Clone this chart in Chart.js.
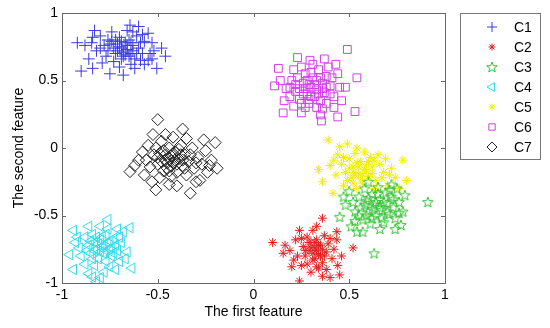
<!DOCTYPE html>
<html>
<head>
<meta charset="utf-8">
<script src="https://cdn.jsdelivr.net/npm/chart.js@4"></script>
<style>
  html, body { margin: 0; padding: 0; background: #fff; }
  #wrap { width: 550px; height: 328px; }
</style>
</head>
<body>
<div id="wrap"><canvas id="scatterChart" width="550" height="328"></canvas></div>
<script>
// cluster points, [x, y]
const c1 = [[-0.92,0.78],[-0.845,0.78],[-0.83,0.87],[-0.80,0.83],[-0.78,0.76],[-0.76,0.72],[-0.74,0.79],[-0.72,0.70],[-0.71,0.77],[-0.70,0.82],
  [-0.69,0.74],[-0.68,0.68],[-0.67,0.78],[-0.66,0.73],[-0.65,0.80],[-0.645,0.91],[-0.64,0.70],[-0.63,0.76],[-0.62,0.66],[-0.61,0.83],
  [-0.60,0.90],[-0.60,0.74],[-0.58,0.70],[-0.57,0.79],[-0.55,0.85],[-0.55,0.65],[-0.53,0.78],[-0.52,0.72],[-0.505,0.59],[-0.46,0.68],
  [-0.90,0.57],[-0.84,0.59],[-0.79,0.63],[-0.75,0.55],[-0.68,0.54],[-0.59,0.65],[-0.54,0.70],[-0.77,0.68],[-0.82,0.72],[-0.73,0.64],
  [-0.70,0.60],[-0.86,0.66],[-0.62,0.59],[-0.57,0.62],[-0.74,0.86],[-0.66,0.87],[-0.48,0.74],[-0.80,0.74],[-0.69,0.66],[-0.64,0.62],
  [-0.75,0.77],[-0.73,0.74],[-0.71,0.72],[-0.69,0.79],[-0.68,0.71],[-0.66,0.76],[-0.64,0.78],[-0.63,0.72],[-0.61,0.70],[-0.72,0.80],
  [-0.76,0.80],[-0.67,0.69],[-0.59,0.78],[-0.65,0.68],[-0.70,0.75],[-0.88,0.76],[-0.84,0.82],[-0.58,0.84],[-0.53,0.66],[-0.63,0.86]];
const c2 = [[0.10,-0.70],[0.36,-0.52],[0.24,-0.61],[0.31,-0.61],[0.435,-0.62],[0.435,-0.68],[0.52,-0.74],[0.165,-0.72],[0.155,-0.78],[0.20,-0.88],
  [0.25,-0.87],[0.24,-0.985],[0.40,-0.96],[0.45,-0.94],[0.34,-0.89],[0.22,-0.68],[0.26,-0.73],[0.27,-0.80],[0.28,-0.66],[0.29,-0.76],
  [0.30,-0.70],[0.31,-0.83],[0.32,-0.74],[0.33,-0.68],[0.34,-0.79],[0.35,-0.72],[0.36,-0.85],[0.37,-0.65],[0.38,-0.77],[0.39,-0.71],
  [0.41,-0.82],[0.42,-0.75],[0.19,-0.76],[0.23,-0.80],[0.30,-0.92],[0.38,-0.90],[0.44,-0.87],[0.33,-0.58],[0.28,-0.86],[0.36,-0.95],
  [0.30,-0.74],[0.31,-0.78],[0.32,-0.70],[0.33,-0.76],[0.34,-0.72],[0.35,-0.80],[0.32,-0.82],[0.29,-0.70],[0.36,-0.75],[0.27,-0.76],
  [0.37,-0.80],[0.25,-0.67],[0.40,-0.67],[0.46,-0.80],[0.21,-0.83],[0.33,-0.88]];
const c3 = [[0.91,-0.40],[0.45,-0.51],[0.51,-0.58],[0.63,-0.78],[0.50,-0.32],[0.52,-0.40],[0.53,-0.47],[0.55,-0.36],[0.56,-0.44],[0.57,-0.53],
  [0.58,-0.30],[0.59,-0.39],[0.60,-0.47],[0.61,-0.56],[0.62,-0.34],[0.63,-0.42],[0.64,-0.50],[0.65,-0.29],[0.66,-0.38],[0.67,-0.46],
  [0.68,-0.55],[0.69,-0.33],[0.70,-0.41],[0.71,-0.49],[0.72,-0.36],[0.73,-0.44],[0.74,-0.52],[0.75,-0.30],[0.76,-0.40],[0.77,-0.57],
  [0.78,-0.47],[0.48,-0.42],[0.47,-0.36],[0.54,-0.62],[0.66,-0.60],[0.79,-0.35],[0.60,-0.25],[0.72,-0.27],[0.57,-0.62],[0.74,-0.60],
  [0.58,-0.42],[0.60,-0.37],[0.62,-0.45],[0.64,-0.40],[0.66,-0.44],[0.68,-0.40],[0.70,-0.47],[0.62,-0.52],[0.67,-0.52],[0.59,-0.50],
  [0.73,-0.38],[0.55,-0.50],[0.65,-0.34],[0.71,-0.31],[0.76,-0.48],[0.53,-0.54]];
const c4 = [[-0.76,-0.53],[-0.645,-0.59],[-0.94,-0.61],[-0.93,-0.70],[-0.96,-0.79],[-0.94,-0.90],[-0.84,-0.955],[-0.82,-0.99],[-0.635,-0.89],[-0.66,-0.77],
  [-0.75,-0.88],[-0.88,-0.66],[-0.86,-0.72],[-0.85,-0.78],[-0.84,-0.64],[-0.83,-0.70],[-0.82,-0.75],[-0.81,-0.82],[-0.80,-0.68],[-0.79,-0.73],
  [-0.78,-0.78],[-0.77,-0.64],[-0.76,-0.70],[-0.75,-0.75],[-0.74,-0.80],[-0.73,-0.67],[-0.72,-0.72],[-0.71,-0.60],[-0.70,-0.84],[-0.69,-0.70],
  [-0.90,-0.80],[-0.88,-0.86],[-0.86,-0.58],[-0.80,-0.58],[-0.78,-0.92],[-0.72,-0.90],[-0.68,-0.62],[-0.91,-0.74],[-0.77,-0.84],[-0.83,-0.87],
  [-0.85,-0.69],[-0.83,-0.76],[-0.81,-0.71],[-0.79,-0.66],[-0.78,-0.72],[-0.77,-0.76],[-0.75,-0.69],[-0.74,-0.74],[-0.80,-0.77],[-0.82,-0.66],
  [-0.87,-0.76],[-0.73,-0.78],[-0.71,-0.76],[-0.76,-0.60],[-0.84,-0.82],[-0.92,-0.66],[-0.67,-0.82],[-0.86,-0.93],[-0.80,-0.96],[-0.70,-0.66]];
const c5 = [[0.39,0.06],[0.54,0.00],[0.78,-0.09],[0.34,-0.16],[0.36,-0.25],[0.415,-0.335],[0.80,-0.24],[0.59,-0.126],[0.44,-0.05],[0.46,-0.12],
  [0.48,-0.18],[0.50,-0.08],[0.51,-0.22],[0.52,-0.14],[0.53,-0.04],[0.55,-0.19],[0.56,-0.10],[0.57,-0.26],[0.58,-0.16],[0.60,-0.21],
  [0.61,-0.07],[0.62,-0.14],[0.64,-0.24],[0.66,-0.12],[0.68,-0.18],[0.70,-0.28],[0.72,-0.15],[0.74,-0.22],[0.47,-0.28],[0.43,-0.20],
  [0.40,-0.13],[0.49,0.03],[0.58,-0.03],[0.65,-0.05],[0.63,-0.30],[0.54,-0.30],[0.76,-0.30],[0.45,0.01],[0.69,-0.08],[0.52,-0.26],
  [0.50,-0.15],[0.52,-0.18],[0.54,-0.11],[0.55,-0.14],[0.57,-0.20],[0.59,-0.17],[0.60,-0.10],[0.62,-0.19],[0.56,-0.23],[0.49,-0.24],
  [0.63,-0.09],[0.47,-0.07],[0.53,-0.20],[0.67,-0.22],[0.71,-0.20],[0.42,-0.09]];
const c6 = [[0.49,0.73],[0.23,0.67],[0.13,0.59],[0.295,0.65],[0.54,0.52],[0.11,0.46],[0.48,0.45],[0.53,0.27],[0.44,0.23],[0.155,0.26],
  [0.25,0.26],[0.35,0.245],[0.355,0.20],[0.20,0.50],[0.22,0.42],[0.24,0.36],[0.26,0.48],[0.27,0.55],[0.28,0.40],[0.29,0.33],
  [0.30,0.45],[0.31,0.52],[0.32,0.38],[0.33,0.43],[0.34,0.58],[0.35,0.35],[0.36,0.48],[0.37,0.41],[0.38,0.53],[0.40,0.46],
  [0.42,0.38],[0.44,0.55],[0.19,0.38],[0.21,0.31],[0.17,0.44],[0.16,0.35],[0.25,0.60],[0.31,0.62],[0.39,0.60],[0.42,0.30],
  [0.46,0.35],[0.27,0.30],[0.33,0.30],[0.23,0.52],[0.29,0.47],[0.35,0.52],[0.40,0.40],[0.14,0.50],[0.45,0.45],[0.38,0.33],
  [0.24,0.44],[0.26,0.40],[0.28,0.50],[0.30,0.38],[0.32,0.47],[0.34,0.40],[0.36,0.44],[0.27,0.44],[0.33,0.50],[0.30,0.56],
  [0.22,0.47],[0.38,0.45],[0.29,0.36],[0.41,0.52],[0.19,0.45],[0.25,0.33],[0.36,0.29],[0.43,0.62],[0.37,0.66],[0.21,0.58]];
const c7 = [[-0.50,0.21],[-0.37,0.14],[-0.525,0.10],[-0.645,-0.175],[-0.20,0.04],[-0.19,-0.15],[-0.51,-0.31],[-0.33,-0.335],[-0.28,-0.24],[-0.60,-0.09],
  [-0.55,0.02],[-0.52,-0.05],[-0.50,-0.12],[-0.48,0.05],[-0.47,-0.02],[-0.46,-0.09],[-0.45,-0.15],[-0.44,0.00],[-0.43,-0.06],[-0.42,-0.11],
  [-0.41,-0.03],[-0.40,-0.18],[-0.39,-0.08],[-0.38,0.02],[-0.37,-0.13],[-0.36,-0.05],[-0.35,-0.20],[-0.34,-0.10],[-0.32,0.00],[-0.31,-0.15],
  [-0.29,-0.07],[-0.27,-0.12],[-0.25,-0.02],[-0.24,-0.18],[-0.22,-0.09],[-0.57,-0.20],[-0.54,-0.14],[-0.49,-0.22],[-0.44,-0.27],[-0.40,-0.28],
  [-0.46,0.10],[-0.42,0.08],[-0.53,-0.25],[-0.58,-0.03],[-0.30,-0.25],[-0.26,0.06],[-0.47,-0.17],[-0.43,-0.21],[-0.39,-0.01],[-0.35,0.07],
  [-0.49,-0.04],[-0.48,-0.10],[-0.46,-0.05],[-0.45,-0.11],[-0.44,-0.08],[-0.43,-0.13],[-0.42,-0.04],[-0.41,-0.09],[-0.40,-0.12],[-0.38,-0.05],
  [-0.37,-0.09],[-0.44,-0.17],[-0.50,-0.07],[-0.36,-0.15],[-0.33,-0.05],[-0.51,0.00],[-0.56,-0.09],[-0.62,-0.13],[-0.23,-0.13],[-0.30,-0.11]];

const clusterNames = ['C1', 'C2', 'C3', 'C4', 'C5', 'C6', 'C7'];
const tickVals = [-1, -0.5, 0, 0.5, 1];

const FONT = 'Liberation Sans, Arial, sans-serif';

// pentagram marker (MATLAB 'p'), chart.js has none
function makePentagram(color, r) {
    const s = Math.ceil(r * 2 + 3);
    const cv = document.createElement('canvas');
    cv.width = s; cv.height = s;
    const g = cv.getContext('2d');
    const cx = s / 2, cy = s / 2 + 0.5;
    g.beginPath();
    for (let i = 0; i < 10; i++) {
        const rr = i % 2 === 0 ? r : r * 0.42;
        const a = -Math.PI / 2 + i * Math.PI / 5;
        const px = cx + rr * Math.cos(a), py = cy + rr * Math.sin(a);
        if (i === 0) g.moveTo(px, py); else g.lineTo(px, py);
    }
    g.closePath();
    g.strokeStyle = color;
    g.lineWidth = 1;
    g.stroke();
    return cv;
}

const pent = makePentagram('#33c033', 5.5);

const styles = [
    { color: '#3a3ae0', pointStyle: 'cross', radius: 6, rotation: 0 },
    { color: '#e02020', pointStyle: 'star', radius: 4.5, rotation: 0 },
    { color: '#33c033', pointStyle: pent, radius: 5.5, rotation: 0 },
    { color: '#33dcec', pointStyle: 'triangle', radius: 6, rotation: -90 },
    { color: '#eeee00', pointStyle: 'star', radius: 4.5, rotation: 0 },
    { color: '#d040e8', pointStyle: 'rect', radius: 5.5, rotation: 0 },
    { color: '#222222', pointStyle: 'rectRot', radius: 6, rotation: 0 }
];

const clusters = [c1, c2, c3, c4, c5, c6, c7];

const datasets = clusters.map((pts, i) => ({
    label: clusterNames[i],
    data: pts.map(p => ({ x: p[0], y: p[1] })),
    pointStyle: styles[i].pointStyle,
    pointRadius: styles[i].radius,
    pointHoverRadius: styles[i].radius,
    pointRotation: styles[i].rotation,
    borderColor: styles[i].color,
    backgroundColor: 'rgba(0,0,0,0)',
    borderWidth: 1
}));

// box + inward ticks, MATLAB look
const axesBox = {
    id: 'axesBox',
    afterDraw(chart) {
        const { ctx, chartArea: a, scales } = chart;
        ctx.save();
        ctx.strokeStyle = '#666';
        ctx.lineWidth = 1;
        ctx.strokeRect(Math.round(a.left) + 0.5, Math.round(a.top) + 0.5,
            Math.round(a.right - a.left), Math.round(a.bottom - a.top));
        ctx.beginPath();
        tickVals.forEach(v => {
            const x = Math.round(scales.x.getPixelForValue(v)) + 0.5;
            ctx.moveTo(x, a.bottom); ctx.lineTo(x, a.bottom - 4);
            ctx.moveTo(x, a.top); ctx.lineTo(x, a.top + 4);
            const y = Math.round(scales.y.getPixelForValue(v)) + 0.5;
            ctx.moveTo(a.left, y); ctx.lineTo(a.left + 4, y);
            ctx.moveTo(a.right, y); ctx.lineTo(a.right - 4, y);
        });
        ctx.stroke();
        ctx.restore();
    }
};

// legend box on the right
const legendBox = {
    id: 'legendBox',
    afterDraw(chart) {
        const ctx = chart.ctx;
        const bx = 460, by = 13, bw = 80, bh = 146;
        ctx.save();
        ctx.fillStyle = '#fff';
        ctx.fillRect(bx, by, bw, bh);
        ctx.strokeStyle = '#777';
        ctx.lineWidth = 1;
        ctx.strokeRect(bx + 0.5, by + 0.5, bw, bh);
        ctx.font = '14px ' + FONT;
        ctx.textBaseline = 'middle';
        ctx.textAlign = 'left';
        clusterNames.forEach((name, i) => {
            const y = by + 14 + i * 20;
            const st = styles[i];
            ctx.strokeStyle = st.color;
            ctx.fillStyle = 'rgba(0,0,0,0)';
            ctx.lineWidth = 1;
            Chart.helpers.drawPoint(ctx, {
                pointStyle: st.pointStyle,
                radius: st.radius - 1,
                rotation: st.rotation,
                borderWidth: 1
            }, 492, y);
            ctx.fillStyle = '#000';
            ctx.fillText(name, 514, y + 1);
        });
        ctx.restore();
    }
};

const ctx1 = document.getElementById('scatterChart').getContext('2d');
new Chart(ctx1, {
    type: 'scatter',
    data: { datasets: datasets },
    options: {
        responsive: false,
        animation: false,
        events: [],
        layout: { padding: { left: 0, top: 13, right: 105, bottom: 0 } },
        plugins: {
            legend: { display: false },
            tooltip: { enabled: false }
        },
        scales: {
            x: {
                type: 'linear',
                min: -1,
                max: 1,
                grid: { display: false, drawTicks: false },
                border: { display: false },
                afterBuildTicks: s => { s.ticks = tickVals.map(v => ({ value: v })); },
                afterFit: s => { s.height = 45; },
                ticks: {
                    color: '#000',
                    font: { family: FONT, size: 14 },
                    padding: 4,
                    maxRotation: 0,
                    callback: v => String(v)
                },
                title: {
                    display: true,
                    text: 'The first feature',
                    color: '#000',
                    font: { family: FONT, size: 14 },
                    padding: { top: 2, bottom: 7 }
                }
            },
            y: {
                type: 'linear',
                min: -1,
                max: 1,
                grid: { display: false, drawTicks: false },
                border: { display: false },
                afterBuildTicks: s => { s.ticks = tickVals.map(v => ({ value: v })); },
                afterFit: s => { s.width = 62; },
                ticks: {
                    color: '#000',
                    font: { family: FONT, size: 14 },
                    padding: 4,
                    callback: v => String(v)
                },
                title: {
                    display: true,
                    text: 'The second feature',
                    color: '#000',
                    font: { family: FONT, size: 14 },
                    padding: { top: 11, bottom: 0 }
                }
            }
        }
    },
    plugins: [axesBox, legendBox]
});
</script>
</body>
</html>
